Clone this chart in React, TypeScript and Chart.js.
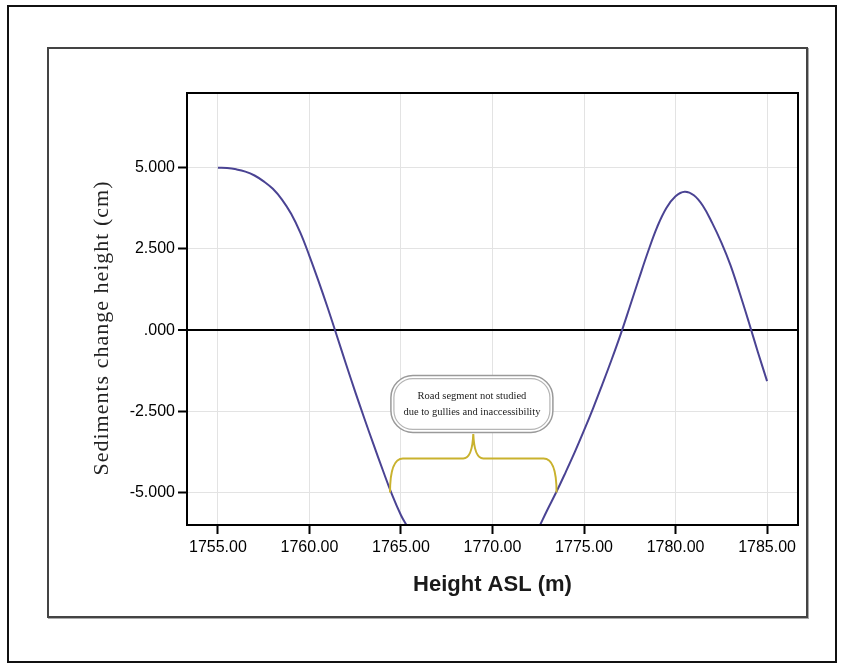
import React, { useEffect, useRef } from "react";
import { Chart, registerables } from "chart.js";

Chart.register(...registerables);

// Height ASL (m) — left branch, gap (not studied), right branch
const heightAsl: number[] = [
  1755.0, 1755.5, 1756.0, 1756.5, 1757.0, 1757.5, 1758.0, 1758.5, 1759.0, 1759.5,
  1760.0, 1760.5, 1761.0, 1761.5, 1762.0, 1762.5, 1763.0, 1763.5, 1764.0, 1764.5,
  1765.0, 1765.3,
  1769.0,
  1772.6, 1773.0, 1773.5, 1774.0, 1774.5, 1775.0, 1775.5, 1776.0, 1776.5, 1777.0,
  1777.5, 1778.0, 1778.5, 1779.0, 1779.5, 1780.0, 1780.5, 1781.0, 1781.5, 1782.0,
  1782.5, 1783.0, 1783.5, 1784.0, 1784.5, 1785.0,
];

// Sediments change height (cm)
const sedimentChange: (number | null)[] = [
  5.0, 4.99, 4.95, 4.88, 4.76, 4.58, 4.35, 4.02, 3.58, 3.0,
  2.28, 1.5, 0.68, -0.18, -1.05, -1.9, -2.72, -3.52, -4.3, -5.05,
  -5.7, -6.0,
  null,
  -6.0, -5.53, -4.97, -4.37, -3.75, -3.09, -2.4, -1.67, -0.92, -0.13,
  0.72, 1.58, 2.42, 3.18, 3.76, 4.12, 4.26, 4.15, 3.82, 3.3,
  2.7, 2.0, 1.15, 0.25, -0.68, -1.57,
];

const xTicks: number[] = [1755, 1760, 1765, 1770, 1775, 1780, 1785];
const yTicks: number[] = [-5, -2.5, 0, 2.5, 5];

const xTitle = "Height ASL (m)";
const yTitle = "Sediments change height (cm)";
const noteLines: string[] = ["Road segment not studied", "due to gullies and inaccessibility"];

// annotation anchor (data units)
const braceX: number[] = [1764.4, 1768.95, 1773.5]; // left, middle, right
const braceY: number[] = [-5.0, -3.95, -3.2]; // ends, bar, peak
const noteBoxX: number[] = [1764.45, 1773.3];
const noteBoxY: number[] = [-1.4, -3.15];

const SANS = '"Liberation Sans", Arial, Helvetica, sans-serif';
const SERIF = '"Liberation Serif", "Times New Roman", Times, serif';

const annotationPlugin = {
  id: "roadAnnotation",
  afterDatasetsDraw(chart: any) {
    const { ctx, chartArea, scales } = chart;
    const xs = scales.x;
    const ys = scales.y;
    ctx.save();

    // brace
    const L = xs.getPixelForValue(braceX[0]);
    const M = xs.getPixelForValue(braceX[1]);
    const R = xs.getPixelForValue(braceX[2]);
    const base = ys.getPixelForValue(braceY[0]);
    const bar = ys.getPixelForValue(braceY[1]);
    const peak = ys.getPixelForValue(braceY[2]);
    ctx.strokeStyle = "#c9b22e";
    ctx.lineWidth = 2;
    ctx.beginPath();
    ctx.moveTo(L, base);
    ctx.quadraticCurveTo(L, bar, L + 13, bar);
    ctx.lineTo(M - 10, bar);
    ctx.quadraticCurveTo(M - 1, bar, M, peak);
    ctx.quadraticCurveTo(M + 1, bar, M + 10, bar);
    ctx.lineTo(R - 13, bar);
    ctx.quadraticCurveTo(R, bar, R, base);
    ctx.stroke();

    // note box
    const bx1 = xs.getPixelForValue(noteBoxX[0]);
    const bx2 = xs.getPixelForValue(noteBoxX[1]);
    const by1 = ys.getPixelForValue(noteBoxY[0]);
    const by2 = ys.getPixelForValue(noteBoxY[1]);
    const bw = bx2 - bx1;
    const bh = by2 - by1;
    ctx.fillStyle = "#ffffff";
    ctx.beginPath();
    ctx.roundRect(bx1, by1, bw, bh, 22);
    ctx.fill();
    ctx.strokeStyle = "#9a9a9a";
    ctx.lineWidth = 1.5;
    ctx.stroke();
    ctx.beginPath();
    ctx.roundRect(bx1 + 3, by1 + 3, bw - 6, bh - 6, 19);
    ctx.strokeStyle = "#b5b5b5";
    ctx.lineWidth = 1.2;
    ctx.stroke();

    ctx.fillStyle = "#222";
    ctx.font = `10.5px ${SERIF}`;
    ctx.textAlign = "center";
    ctx.textBaseline = "middle";
    const cx = (bx1 + bx2) / 2;
    const cy = (by1 + by2) / 2;
    ctx.fillText(noteLines[0], cx, cy - 7.5);
    ctx.fillText(noteLines[1], cx, cy + 8.5);

    // plot frame
    ctx.strokeStyle = "#000";
    ctx.lineWidth = 2;
    ctx.strokeRect(
      chartArea.left,
      chartArea.top,
      chartArea.right - chartArea.left,
      chartArea.bottom - chartArea.top
    );
    ctx.restore();
  },
  afterDraw(chart: any) {
    // y-axis title (letter-spaced serif, as in the source figure)
    const { ctx, chartArea } = chart;
    ctx.save();
    ctx.translate(102, (chartArea.top + chartArea.bottom) / 2 + 19);
    ctx.rotate(-Math.PI / 2);
    ctx.font = `22px ${SERIF}`;
    try {
      (ctx as any).letterSpacing = "1px";
    } catch (e) {}
    ctx.fillStyle = "#222";
    ctx.textAlign = "center";
    ctx.textBaseline = "middle";
    ctx.fillText(yTitle, 0, 0);
    ctx.restore();
  },
};

export default function App() {
  const canvasRef = useRef<HTMLCanvasElement | null>(null);

  useEffect(() => {
    const canvas = canvasRef.current;
    if (!canvas) return;
    const points = heightAsl.map((x, i) => ({ x, y: sedimentChange[i] }));
    const chart = new Chart(canvas, {
      type: "line",
      data: {
        datasets: [
          {
            data: points as any,
            borderColor: "#4a4393",
            borderWidth: 2,
            pointRadius: 0,
            tension: 0.4,
            spanGaps: false,
            fill: false,
          },
        ],
      },
      options: {
        animation: false,
        responsive: false,
        events: [],
        layout: { padding: { top: 93, right: 44, bottom: 0, left: 0 } },
        plugins: {
          legend: { display: false },
          tooltip: { enabled: false },
          title: { display: false },
        },
        scales: {
          x: {
            type: "linear",
            min: 1753.31,
            max: 1786.69,
            afterBuildTicks: (s: any) => {
              s.ticks = xTicks.map((v) => ({ value: v }));
            },
            afterFit: (s: any) => {
              s.height = 143;
            },
            ticks: {
              callback: (v: any) => Number(v).toFixed(2),
              font: { family: SANS, size: 16 },
              color: "#000",
              padding: 4,
              maxRotation: 0,
              autoSkip: false,
            },
            grid: {
              color: "#e3e3e3",
              lineWidth: 1,
              tickColor: "#000",
              tickLength: 9,
              tickWidth: 2,
            },
            border: { display: true, color: "#000", width: 2 },
            title: {
              display: true,
              text: xTitle,
              font: { family: SANS, size: 22, weight: "bold" },
              color: "#1a1a1a",
              padding: { top: 0, bottom: 70 },
            },
          },
          y: {
            type: "linear",
            min: -6,
            max: 7.3,
            afterBuildTicks: (s: any) => {
              s.ticks = yTicks.map((v) => ({ value: v }));
            },
            afterFit: (s: any) => {
              s.width = 187;
            },
            ticks: {
              callback: (v: any) => (Number(v) === 0 ? ".000" : Number(v).toFixed(3)),
              font: { family: SANS, size: 16 },
              color: "#000",
              padding: 3,
            },
            grid: {
              color: (c: any) => (c.tick && c.tick.value === 0 ? "#000" : "#e3e3e3"),
              lineWidth: (c: any) => (c.tick && c.tick.value === 0 ? 2 : 1),
              tickColor: "#000",
              tickLength: 9,
              tickWidth: 2,
            },
            border: { display: true, color: "#000", width: 2 },
            title: { display: false },
          },
        },
      },
      plugins: [annotationPlugin],
    });
    return () => chart.destroy();
  }, []);

  return (
    <div
      style={{
        position: "absolute",
        left: 0,
        top: 0,
        width: 842,
        height: 668,
        background: "#fff",
      }}
    >
      <div
        style={{
          position: "absolute",
          left: 7,
          top: 5,
          width: 830,
          height: 658,
          border: "2px solid #111",
          boxSizing: "border-box",
        }}
      />
      <div
        style={{
          position: "absolute",
          left: 47,
          top: 47,
          width: 761,
          height: 571,
          border: "2px solid #444",
          boxShadow: "1px 1px 0 #aaa",
          boxSizing: "border-box",
        }}
      />
      <canvas
        ref={canvasRef}
        width={842}
        height={668}
        style={{ position: "absolute", left: 0, top: 0, width: 842, height: 668 }}
      />
    </div>
  );
}
